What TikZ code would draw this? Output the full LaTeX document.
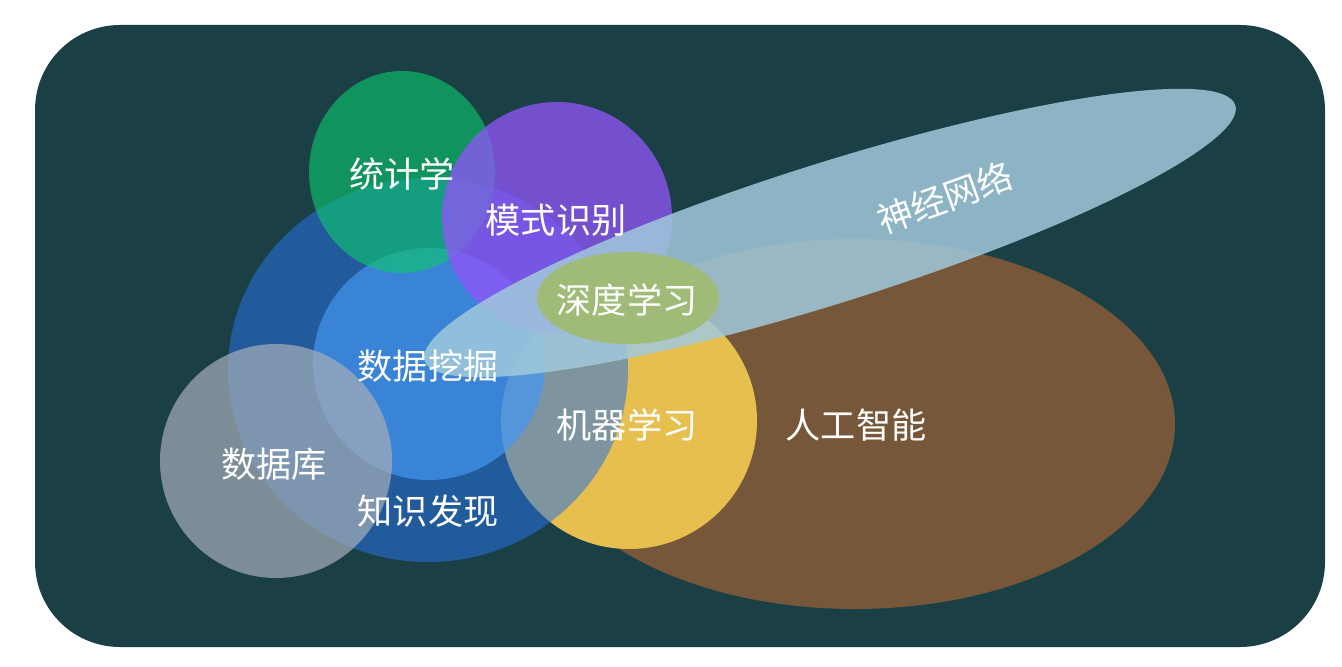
\documentclass[tikz,border=0pt]{standalone}
\usepackage{fontspec}
\newfontfamily\cjk{Noto Sans CJK SC}
\definecolor{bgteal}{RGB}{26,64,70}
\definecolor{aibrown}{RGB}{118,87,58}
\definecolor{mlyellow}{RGB}{230,191,79}
\definecolor{kdblue}{RGB}{39,114,229}
\definecolor{dmblue}{RGB}{69,150,242}
\definecolor{stgreen}{RGB}{13,198,109}
\definecolor{prpurple}{RGB}{144,85,249}
\definecolor{dbgrey}{RGB}{163,172,184}
\definecolor{nnblue}{RGB}{161,201,219}
\definecolor{dlolive}{RGB}{159,187,119}
\begin{document}
\begin{tikzpicture}[x=0.01cm,y=-0.01cm,
  lbl/.style={font=\cjk\fontsize{10}{12}\selectfont, text=white, inner sep=0pt},
  aishape/.style={fill=aibrown},
  mlshape/.style={fill=mlyellow},
  kdshape/.style={fill=kdblue, fill opacity=0.54},
  dmshape/.style={fill=dmblue, fill opacity=0.7},
  stshape/.style={fill=stgreen, fill opacity=0.62},
  prshape/.style={fill=prpurple, fill opacity=0.77},
  dbshape/.style={fill=dbgrey, fill opacity=0.72},
  nnshape/.style={fill=nnblue, fill opacity=0.85},
  dlshape/.style={fill=dlolive}]
\useasboundingbox (0,0) rectangle (1342,667);
\fill[white] (0,0) rectangle (1342,667);
\fill[bgteal, rounded corners=0.85cm] (35,25) rectangle (1325,647);
% shapes, bottom to top
\fill[aishape] (855,424) ellipse [x radius=320, y radius=185];
\fill[mlshape] (629,421) ellipse [x radius=128, y radius=128];
\fill[kdshape] (428,370) ellipse [x radius=200, y radius=192];
\fill[dmshape] (429,364) ellipse [x radius=116, y radius=116];
\fill[stshape] (402,172) ellipse [x radius=93, y radius=101];
\fill[prshape] (557,218) ellipse [x radius=115, y radius=116];
\fill[dbshape] (276,461) ellipse [x radius=116, y radius=117];
\fill[nnshape, rotate around={17.5:(830,233)}] (830,233) ellipse [x radius=425, y radius=70];
\fill[dlshape] (628,298) ellipse [x radius=91, y radius=46];
% labels
\node[lbl] (st) at (402,174) {统计学};
\node[lbl] (pr) at (556,220) {模式识别};
\node[lbl] (dl) at (627,300) {深度学习};
\node[lbl] (dm) at (428,366) {数据挖掘};
\node[lbl] (db) at (274,464) {数据库};
\node[lbl] (kd) at (428,511) {知识发现};
\node[lbl] (ml) at (627,425) {机器学习};
\node[lbl] (ai) at (856,425) {人工智能};
\node[lbl, rotate=20] (nn) at (945,198) {神经网络};
\end{tikzpicture}
\end{document}
